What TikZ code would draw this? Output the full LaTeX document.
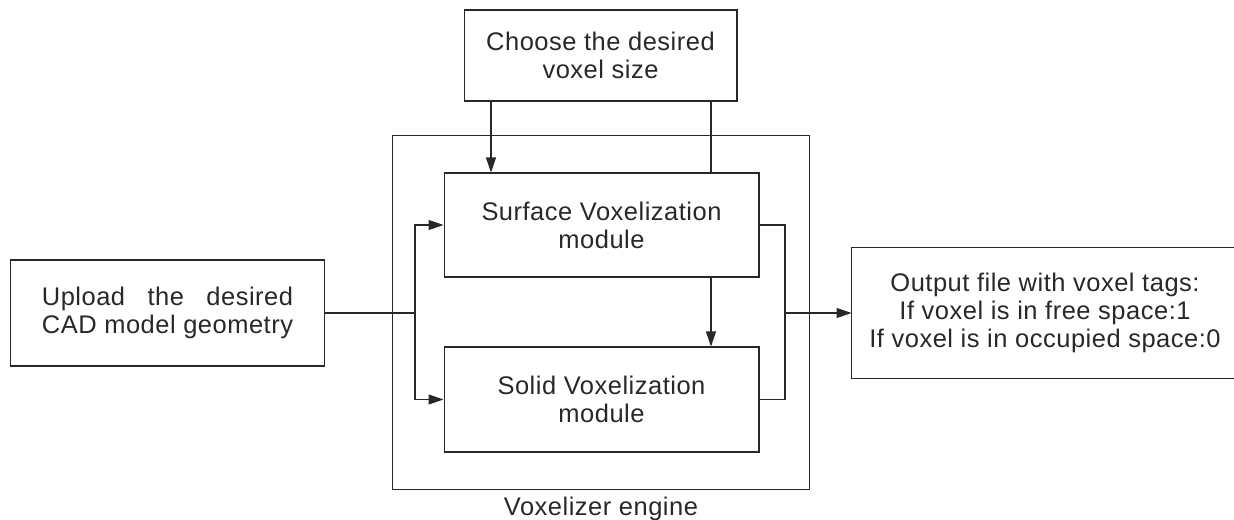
\documentclass[tikz,border=0pt]{standalone}
\usepackage{fontspec}
\setmainfont[LetterSpace=2]{Liberation Sans}
\usepackage{calc}
\usepackage{tikz}
\usetikzlibrary{arrows.meta, positioning}
\definecolor{lineGray}{RGB}{40,40,40}

\begin{document}
\begin{tikzpicture}[
    x=0.02cm, y=-0.02cm,
    modbox/.style={draw=lineGray, line width=0.6pt, align=center, inner sep=0pt, text=lineGray, font=\fontsize{14.5}{16}\selectfont},
    arrow/.style={line width=0.6pt, draw=lineGray, -{Triangle[length=0.3cm, width=0.2cm]}},
    wire/.style={line width=0.6pt, draw=lineGray}
]
    \useasboundingbox (0,0) rectangle (1234,520);

    \node[modbox, minimum width=5.46cm, minimum height=1.82cm] (choose) at (600.5,55.5) {Choose the desired\\voxel size};
    \node[modbox, minimum width=8.36cm, minimum height=7.1cm] (engine) at (601,312.5) {};
    \node[modbox, minimum width=6.3cm, minimum height=2.08cm] (surface) at (601.5,225) {Surface Voxelization\\module};
    \node[modbox, minimum width=6.3cm, minimum height=2.1cm] (solid) at (601.5,399.5) {Solid Voxelization\\module};
    \node[modbox, minimum width=6.3cm, minimum height=2.12cm] (upload) at (167.5,313) {\makebox[\widthof{CAD model geometry}][s]{Upload the desired}\\CAD model geometry};
    \node[modbox, draw=none, minimum width=7.72cm, minimum height=2.6cm] (output) at (1045,313) {Output file with voxel tags:\\If voxel is in free space:1\\If voxel is in occupied space:0};
    \node[modbox, draw=none, below=0.12cm of engine] (label) {Voxelizer engine};

    \draw[wire] (output.north east) -- (output.north west) -- (output.south west) -- (output.south east);

    \coordinate (c1) at (491,0);
    \coordinate (c2) at (711,0);
    \coordinate (split) at (415,313);
    \coordinate (merge) at (785,313);

    \draw[arrow] (choose.south -| c1) -- (surface.north -| c1);
    \draw[wire] (choose.south -| c2) -- (surface.north -| c2);
    \draw[arrow] (surface.south -| c2) -- (solid.north -| c2);

    \draw[wire] (upload.east) -- (split);
    \draw[arrow] (split) |- (surface.west);
    \draw[arrow] (split) |- (solid.west);

    \draw[wire] (surface.east) -| (merge) |- (solid.east);
    \draw[arrow] (merge) -- (output.west);
\end{tikzpicture}
\end{document}
